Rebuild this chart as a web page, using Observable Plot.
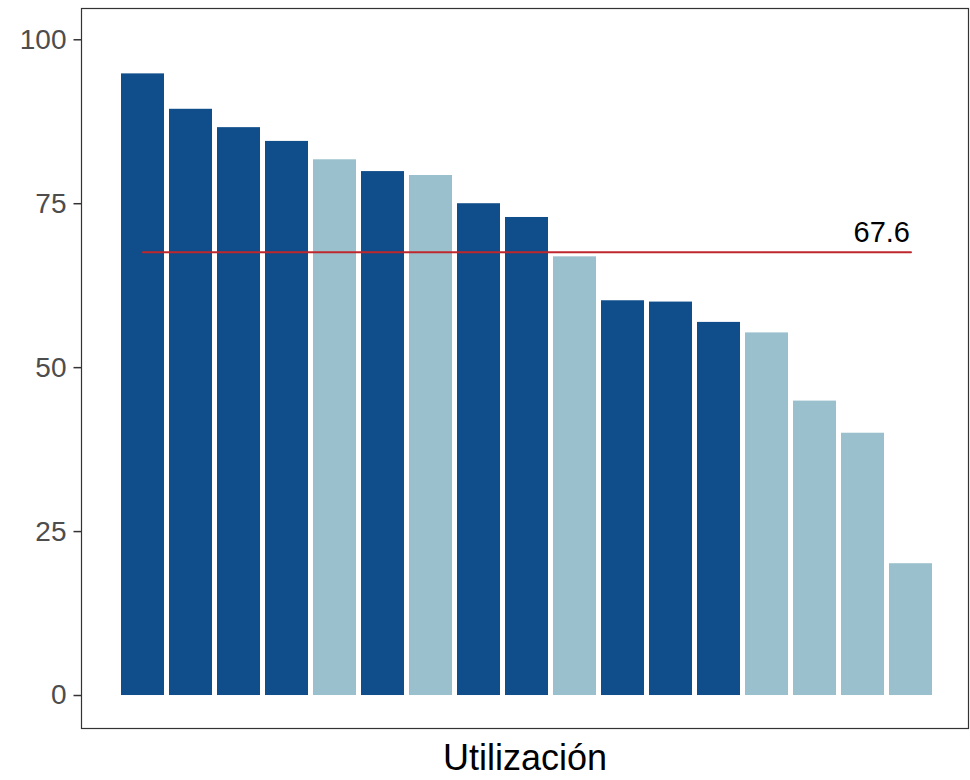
<!DOCTYPE html>
<html>
<head>
<meta charset="utf-8">
<script src="https://cdn.jsdelivr.net/npm/d3@7"></script>
<script src="https://cdn.jsdelivr.net/npm/@observablehq/plot@0.6"></script>
<style>
  html, body { margin: 0; padding: 0; background: #fff; }
  #chart svg { display: block; font-family: "Liberation Sans", Arial, sans-serif; }
</style>
</head>
<body>
<div id="chart"></div>
<script>
const categories = ["1","2","3","4","5","6","7","8","9","10","11","12","13","14","15","16","17"];
const values = [94.8, 89.4, 86.6, 84.5, 81.7, 79.9, 79.3, 75.0, 72.9, 66.9, 60.2, 60.0, 56.9, 55.3, 44.9, 40.0, 20.1];
const groups = ["A","A","A","A","B","A","B","A","A","B","A","A","A","B","B","B","B"];
const meanValue = 67.6;
const meanLabel = "67.6";
const yTicks = [0, 25, 50, 75, 100];
const xTitle = "Utilización";

const data = categories.map((c, i) => ({cat: c, value: values[i], group: groups[i]}));
const last = categories[categories.length - 1];

const chart = Plot.plot({
  width: 970,
  height: 780,
  marginTop: 8,
  marginBottom: 52,
  marginLeft: 81,
  marginRight: 2,
  style: {fontFamily: "Liberation Sans, Arial, sans-serif", background: "#fff"},
  x: {domain: categories, range: [116.5, 937.3], padding: 0.1, axis: null},
  y: {domain: [-5.03, 104.77], axis: null},
  color: {domain: ["A", "B"], range: ["#104E8B", "#9AC0CD"]},
  marks: [
    Plot.barY(data, {x: "cat", y: "value", fill: "group"}),
    Plot.lineY([{x: categories[0], y: meanValue}, {x: last, y: meanValue}], {x: "x", y: "y", stroke: "#C0272D", strokeWidth: 2}),
    Plot.text([{x: last, y: meanValue}], {x: "x", y: "y", text: () => meanLabel, textAnchor: "end", lineAnchor: "bottom", dy: -10, dx: -1, fontSize: 29, fill: "#000"}),
    Plot.frame({stroke: "#333", strokeWidth: 1.2}),
    Plot.axisY({ticks: yTicks, tickSize: 7.5, tickPadding: 7.5, fontSize: 28, fill: "#4d4d4d", stroke: "#333", strokeWidth: 1.5, label: null}),
    Plot.text([xTitle], {frameAnchor: "bottom", dy: 41, fontSize: 36, fill: "#000", text: d => d})
  ]
});
document.getElementById("chart").appendChild(chart);
</script>
</body>
</html>
